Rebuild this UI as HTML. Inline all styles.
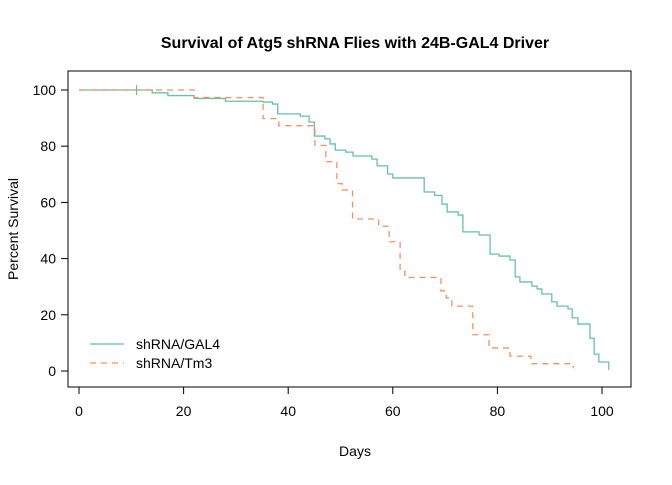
<!DOCTYPE html>
<html><head><meta charset="utf-8"><style>
body{margin:0;background:#fff;font-family:"Liberation Sans",Arial,sans-serif}
svg text{font-family:"Liberation Sans",Arial,sans-serif}
</style></head><body>
<svg id="chart" width="672" height="480" viewBox="0 0 672 480">
<text x="355" y="48" text-anchor="middle" font-size="16" font-weight="bold">Survival of Atg5 shRNA Flies with 24B-GAL4 Driver</text>
<rect x="68" y="71" width="563" height="316" fill="none" stroke="#000" stroke-width="1"/>
<g id="xaxis"></g>
<g id="yaxis"></g>
<text x="355" y="456" text-anchor="middle" font-size="14">Days</text>
<text transform="translate(18,229) rotate(-90)" text-anchor="middle" font-size="14">Percent Survival</text>
<g id="series"></g>
<g>
<g>
<line x1="90" y1="344" x2="124" y2="344" stroke="#66c2a5" stroke-width="1.2"/>
<text x="136" y="349" font-size="14">shRNA/GAL4</text></g>
<g>
<line x1="90" y1="363" x2="124" y2="363" stroke="#fc8d62" stroke-width="1.2" stroke-dasharray="6,5"/>
<text x="136" y="368" font-size="14">shRNA/Tm3</text></g>
</g>
</svg>
<script>
const xTicks=[0,20,40,60,80,100];
const yTicks=[0,20,40,60,80,100];
const gal4Days=[0,14,17,22,28,35.2,37,38,42.3,44,45,47,48,49,51,52.4,56,57,59,60,66,68,69.4,70.4,72.5,73.4,76.5,78.6,80.3,82.4,83.4,84.3,86.6,87.6,88.5,90.4,91.4,93.5,94.3,95.4,97.7,98.5,99.4,101.3];
const gal4Surv=[100,99,98,97,96,95.7,95,91.5,90.7,88.6,83.6,82.6,80.8,78.6,77.9,76.5,75.4,73,70.1,68.7,63.7,62.5,59.4,56.6,55.5,49.5,48.4,41.6,40.9,39.5,33.5,31.7,30.2,29.2,27.4,24.6,23.1,22.1,18.9,16.7,11.7,6,3.2,0.4];
const tm3Days=[0,22,35.2,38.2,45.1,47.2,49.3,50.3,52.3,57.3,59.3,61.4,62.3,69.2,70.2,71.3,75.3,78.4,82.4,86.4,94.5];
const tm3Surv=[100,97.3,89.8,87.3,80.3,74.5,66.7,64.4,54.1,51.5,46,35.5,33.3,28.5,26,23.1,12.9,8.2,5.3,2.6,1];
const censorDays=[11];
const censorSurv=[100];
const xs=d=>79+d*5.23, ys=p=>371-p*2.81;
const NS="http://www.w3.org/2000/svg";
function mk(t,a,p){const e=document.createElementNS(NS,t);for(const k in a)e.setAttribute(k,a[k]);p.appendChild(e);return e;}
const xa=document.getElementById('xaxis');
mk('line',{x1:xs(0),x2:xs(100),y1:387,y2:387,stroke:'#000'},xa);
xTicks.forEach(v=>{const l=mk('line',{x1:xs(v),x2:xs(v),y1:387,y2:394,stroke:'#000'},xa);


const t=mk('text',{x:xs(v),y:416,'text-anchor':'middle','font-size':14},xa);t.textContent=v;

});
const ya=document.getElementById('yaxis');
mk('line',{x1:68,x2:68,y1:ys(0),y2:ys(100),stroke:'#000'},ya);
yTicks.forEach(v=>{const l=mk('line',{x1:61,x2:68,y1:ys(v),y2:ys(v),stroke:'#000'},ya);


const t=mk('text',{x:56,y:ys(v)+5,'text-anchor':'end','font-size':14},ya);t.textContent=v;

});
function step(days,surv){let d='M'+xs(days[0])+','+ys(surv[0]);for(let i=1;i<days.length;i++){d+=' H'+xs(days[i])+' V'+ys(surv[i]);}return d;}
const sg=document.getElementById('series');
const p1=mk('path',{d:step(gal4Days,gal4Surv),fill:'none',stroke:'#66c2a5','stroke-width':1.3},sg);


const p2=mk('path',{d:step(tm3Days,tm3Surv),fill:'none',stroke:'#fc8d62','stroke-width':1.3,'stroke-dasharray':'6,5'},sg);


censorDays.forEach((d,i)=>{const c=mk('path',{d:'M'+xs(d)+','+(ys(censorSurv[i])-5)+' V'+(ys(censorSurv[i])+5),stroke:'#66c2a5','stroke-width':1.2},sg);

});
</script>
</body></html>
